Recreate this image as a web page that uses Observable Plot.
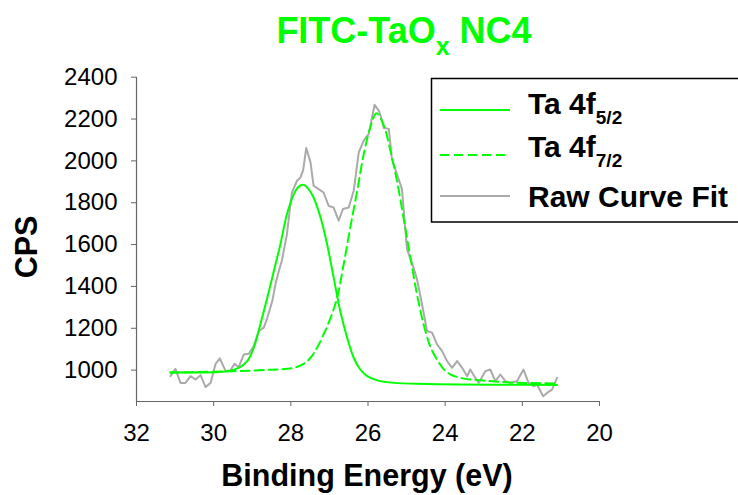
<!DOCTYPE html>
<html>
<head>
<meta charset="utf-8">
<script src="https://cdn.jsdelivr.net/npm/d3@7"></script>
<script src="https://cdn.jsdelivr.net/npm/@observablehq/plot@0.6"></script>
<style>
  html, body { margin: 0; padding: 0; background: #fff; }
  #wrap { position: relative; width: 738px; height: 495px; overflow: hidden; font-family: "Liberation Sans", Arial, sans-serif; }
  #title { position: relative; height: 60px; }
  #title .t { position: absolute; left: 0; width: 808px; top: 13px; text-align: center; font-size: 36px; line-height: 36px; font-weight: bold; color: #00ff00; white-space: nowrap; }
  #title .t span { font-size: 25px; position: relative; top: 12px; }
  .lab { position: absolute; font-weight: bold; font-size: 30.5px; line-height: 1; white-space: nowrap; color: #000; }
  #legend { position: absolute; left: 0; top: 0; pointer-events: none; }
</style>
</head>
<body>
<div id="wrap">
  <div id="title"><div class="t">FITC-TaO<span>x</span> NC4</div></div>
  <div id="chart"></div>
  <div class="lab" id="ylab" style="left:26px; top:247px; transform: translate(-50%,-50%) rotate(-90deg);">CPS</div>
  <div class="lab" id="xlab" style="left:367px; top:475px; transform: translate(-50%,-50%);">Binding Energy (eV)</div>
  <svg id="legend" width="738" height="495"></svg>
</div>
<script>
// Raw curve (Binding Energy eV, CPS)
const rawEnergy = [31.12,30.99,30.86,30.73,30.60,30.47,30.34,30.21,30.08,29.95,29.84,29.69,29.56,29.46,29.35,29.22,29.09,28.96,28.83,28.70,28.61,28.48,28.40,28.31,28.23,28.10,28.01,27.97,27.84,27.75,27.68,27.60,27.49,27.41,27.28,27.15,27.02,26.89,26.76,26.65,26.50,26.37,26.24,26.11,25.98,25.83,25.72,25.63,25.59,25.46,25.38,25.25,25.12,24.99,24.82,24.73,24.60,24.47,24.34,24.21,24.08,23.95,23.82,23.69,23.56,23.43,23.35,23.22,23.13,22.96,22.83,22.70,22.57,22.44,22.31,22.14,21.97,21.84,21.71,21.62,21.46,21.36,21.23,21.10];
const rawCPS = [971,1006,939,939,971,955,976,919,939,1030,1056,995,1000,1030,1014,1075,1078,1115,1187,1203,1250,1330,1410,1474,1525,1650,1794,1849,1905,1921,1956,2062,1993,1881,1865,1849,1785,1777,1714,1770,1777,1857,2041,2097,2129,2268,2240,2192,2157,2153,2009,1937,1865,1578,1490,1434,1315,1187,1179,1123,1091,1043,1011,1043,1011,971,1003,963,939,995,1003,947,979,947,939,947,1003,939,923,931,875,891,907,963];

// Ta 4f5/2 fitted component
const fit52Energy = [31.12,29.65,29.35,29.13,28.96,28.79,28.61,28.44,28.27,28.10,27.92,27.80,27.68,27.54,27.41,27.23,27.06,26.89,26.72,26.54,26.37,26.20,26.02,25.76,25.33,24.47,23.61,22.31,21.10];
const fit52CPS = [990,995,1011,1043,1107,1219,1346,1474,1602,1746,1841,1876,1886,1865,1825,1729,1602,1442,1283,1155,1059,1003,971,951,939,934,931,930,929];

// Ta 4f7/2 fitted component
const fit72Energy = [31.12,29.50,28.50,27.92,27.67,27.49,27.32,27.15,26.97,26.80,26.63,26.46,26.28,26.11,25.94,25.78,25.59,25.42,25.25,25.08,24.90,24.73,24.56,24.47,24.38,24.21,24.04,23.87,23.61,23.00,22.30,21.10];
const fit72CPS = [988,995,1002,1011,1030,1059,1107,1171,1250,1346,1506,1681,1857,2033,2160,2228,2169,2049,1905,1729,1538,1362,1219,1160,1110,1050,1005,980,963,950,941,936];

const xTicks = [32,30,28,26,24,22,20];
const yTicks = [1000,1200,1400,1600,1800,2000,2200,2400];

const seriesNames = ["Ta 4f", "Ta 4f", "Raw Curve Fit"];
const seriesSubs = ["5/2", "7/2", ""];

const raw = rawEnergy.map((e, i) => ({e, v: rawCPS[i]}));
const f52 = fit52Energy.map((e, i) => ({e, v: fit52CPS[i]}));
const f72 = fit72Energy.map((e, i) => ({e, v: fit72CPS[i]}));

const GREEN = "#00ff00", GRAY = "#aaaaaa", AXIS = "#666";

const plot = Plot.plot({
  width: 738,
  height: 435,
  marginTop: 16.7,
  marginBottom: 94,
  marginLeft: 136,
  marginRight: 139,
  x: {domain: [32, 20]},
  y: {domain: [850, 2400]},
  style: {fontFamily: "'Liberation Sans', Arial, sans-serif", fontSize: "24px", color: "#000", background: "transparent", overflow: "visible"},
  marks: [
    Plot.ruleY([850], {stroke: AXIS, strokeWidth: 1.2}),
    Plot.ruleX([32], {stroke: AXIS, strokeWidth: 1.2}),
    Plot.axisX(xTicks, {tickSize: 5, tickPadding: 17, stroke: AXIS, fill: "#000", fontSize: 24, tickFormat: d => String(d), label: null}),
    Plot.axisY(yTicks, {tickSize: 5, tickPadding: 14, stroke: AXIS, fill: "#000", fontSize: 24, tickFormat: d => String(d), label: null}),
    Plot.line(raw, {x: "e", y: "v", stroke: GRAY, strokeWidth: 2}),
    Plot.line(f52, {x: "e", y: "v", stroke: GREEN, strokeWidth: 2, curve: "catmull-rom"}),
    Plot.line(f72, {x: "e", y: "v", stroke: GREEN, strokeWidth: 2, strokeDasharray: "9,5", curve: "catmull-rom"})
  ]
});
document.getElementById("chart").appendChild(plot);

// Legend
const svg = d3.select("#legend");
svg.append("rect").attr("x", 431.5).attr("y", 78.5).attr("width", 330).attr("height", 143.5)
  .attr("fill", "#fff").attr("stroke", "#000").attr("stroke-width", 1.5);
const rowsY = [110, 155, 196];
const baseY = [114, 157, 207];
const styles = [{stroke: GREEN, dash: null}, {stroke: GREEN, dash: "9,5"}, {stroke: GRAY, dash: null}];
seriesNames.forEach((name, i) => {
  svg.append("line").attr("x1", 440).attr("x2", 510).attr("y1", rowsY[i]).attr("y2", rowsY[i])
    .attr("stroke", styles[i].stroke).attr("stroke-width", 2).attr("stroke-dasharray", styles[i].dash);
  const t = svg.append("text").attr("x", 528).attr("y", baseY[i])
    .attr("font-family", "'Liberation Sans', Arial, sans-serif").attr("font-weight", "bold").attr("font-size", 30).attr("fill", "#000");
  t.append("tspan").text(name);
  if (seriesSubs[i]) t.append("tspan").attr("dy", 10).attr("font-size", 19).text(seriesSubs[i]);
});
</script>
</body>
</html>
